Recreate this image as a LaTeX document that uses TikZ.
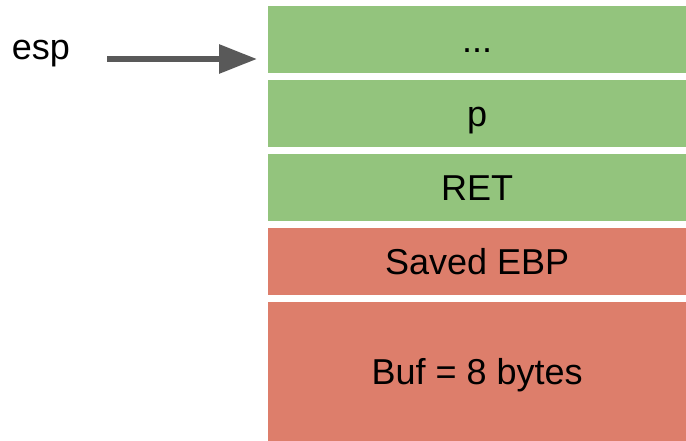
\documentclass[tikz,border=0pt]{standalone}
\usepackage{fontspec}
\setmainfont{Liberation Sans}
\usetikzlibrary{arrows.meta}
\definecolor{stackgreen}{HTML}{93C47D}
\definecolor{stackred}{HTML}{DD7E6B}
\definecolor{arrowgray}{HTML}{595959}
\begin{document}
\begin{tikzpicture}[x=1pt,y=-1pt,
  cell/.style={fill=#1, draw=none, inner sep=0pt, minimum width=418pt,
    text height=26.5pt, text depth=0pt, anchor=north west,
    font=\fontsize{36}{43}\selectfont},
  lbl/.style={inner sep=0pt, anchor=base, font=\fontsize{36}{43}\selectfont},
  ptr/.style={draw=arrowgray, line width=6pt, -{Triangle[length=38pt,width=28pt]}}]
\useasboundingbox (0,0) rectangle (686,441);
\node[cell=stackgreen, minimum height=67pt] (b1) at (268,6) {...};
\node[cell=stackgreen, minimum height=67pt] (b2) at (268,80) {p};
\node[cell=stackgreen, minimum height=67pt] (b3) at (268,154) {RET};
\node[cell=stackred, minimum height=67pt] (b4) at (268,228) {Saved EBP};
\node[cell=stackred, minimum height=139pt] (b5) at (268,302) {Buf = 8 bytes};
\node[lbl] (esp) at (41,60) {esp};
\coordinate (as) at (107,59);
\coordinate (ae) at (257,59);
\draw[ptr] (as) -- (ae);
\end{tikzpicture}
\end{document}
